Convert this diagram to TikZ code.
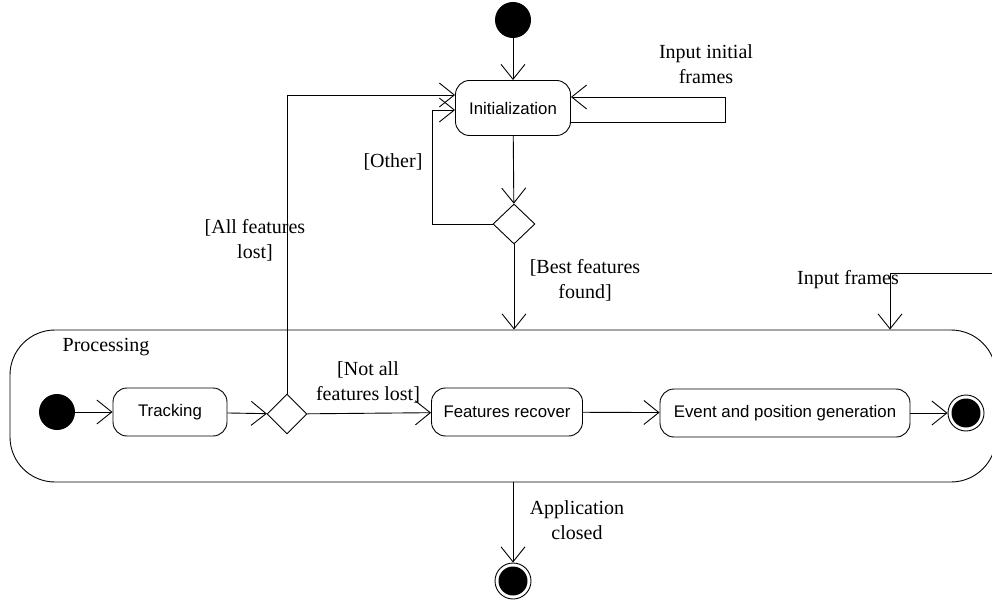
\documentclass[tikz,border=0pt]{standalone}
\usepackage{fontspec}
\setmainfont{Liberation Serif}
\newfontfamily\actfont{Liberation Sans}
\usetikzlibrary{arrows.meta,shapes.geometric}

\begin{document}
\begin{tikzpicture}[x=1pt,y=-1pt,line width=0.9pt,
    flow/.style={-{Straight Barb[length=15pt,width=24pt,line width=0.9pt]}},
    activity/.style={draw,rounded corners=14pt,font=\actfont\fontsize{16.8}{19}\selectfont,minimum height=48pt},
    decision/.style={draw,diamond,inner sep=0pt,minimum width=42pt,minimum height=40pt},
    initial/.style={circle,fill=black,inner sep=0pt,minimum size=36pt},
    final/.style={circle,draw,inner sep=0pt,minimum size=36pt,
        path picture={\fill (path picture bounding box.center) circle (14.5pt);}},
    guard/.style={align=center,font=\fontsize{20}{25}\selectfont,inner sep=1pt}]
    \useasboundingbox (0,0) rectangle (992,601);
    % processing region
    \node[draw,rounded corners=45pt,minimum width=986pt,minimum height=152pt] (proc) at (503,406) {};
    \node[guard] (proclabel) at (106,347) {Processing};
    % outer flow
    \node[initial] (start) at (513,20) {};
    \node[activity,minimum width=115pt,minimum height=55pt] (init) at (513,108) {Initialization};
    \node[decision] (dec1) at (514,224) {};
    \node[final] (end) at (513,581) {};
    % inner flow
    \node[initial] (istart) at (57,412) {};
    \node[activity,minimum width=114pt] (track) at (170,412) {Tracking};
    \node[decision,minimum width=40pt] (dec2) at (287,414) {};
    \node[activity,minimum width=151pt] (recover) at (507,412) {Features recover};
    \node[activity,minimum width=250pt] (event) at (785,413) {Event and position generation};
    \node[final] (pend) at (966,413) {};
    \coordinate (loop) at (725,97);
    \coordinate (inframes) at (992,273);
    \path[flow]
    (start) edge (init)
    (init) edge (dec1)
    (istart) edge (track)
    (track) edge (dec2)
    (dec2) edge (recover)
    (recover) edge (event)
    (event) edge (pend)
    (dec1.south) edge (dec1.south |- proc.north)
    (end |- proc.south) edge (end);
    \draw[flow] ([yshift=-14pt]init.east) -| (loop) -- ([yshift=11pt]init.east);
    \draw[flow] (dec1.west) -| ([xshift=-23pt,yshift=-2pt]init.west) -- ([yshift=-2pt]init.west);
    \draw[flow] (dec2.north) |- ([yshift=13pt]init.west);
    \draw[flow] (inframes) -| (890,0 |- proc.north);
    % guards and labels
    \node[guard] (lbinit) at (706,64) {Input initial\\frames};
    \node[guard] (lbother) at (393,162) {[Other]};
    \node[guard] (lblost) at (255,240) {[All features\\lost]};
    \node[guard] (lbbest) at (585,280) {[Best features\\found]};
    \node[guard] (lbframes) at (848,280) {Input frames};
    \node[guard] (lbnotall) at (368,382) {[Not all\\features lost]};
    \node[guard] (lbclosed) at (577,520) {Application\\closed};
\end{tikzpicture}
\end{document}
